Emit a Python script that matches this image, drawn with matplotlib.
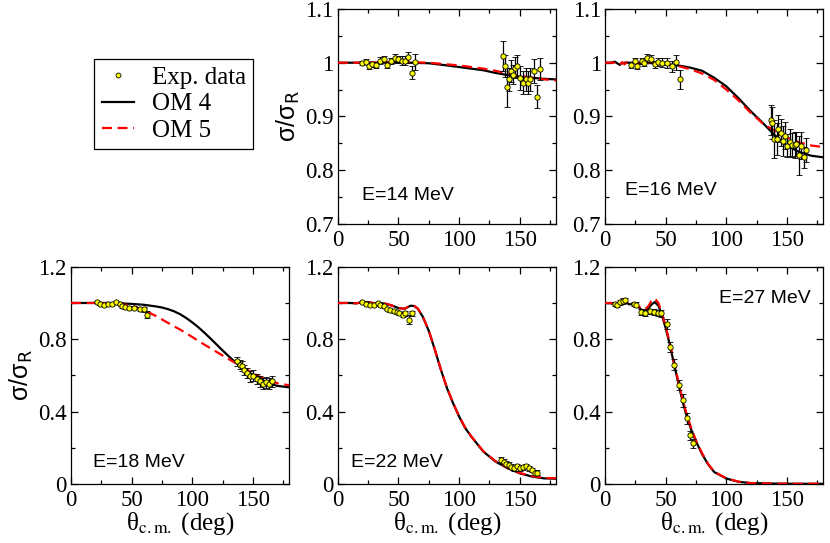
import matplotlib.pyplot as plt
import numpy as np
from matplotlib.lines import Line2D
from matplotlib.ticker import MultipleLocator, FuncFormatter

plt.rcParams['font.family'] = 'serif'
plt.rcParams['font.serif'] = ['Liberation Serif', 'DejaVu Serif']

# ---- E = 14 MeV ----
th14_exp = [19.7, 23.5, 25.7, 28.4, 31.9, 34.6, 37.8, 40.5, 43.8, 46.8, 49.5, 53.2, 55.4, 58.1, 60.8, 63.5,
            136.5, 137.8, 139.2, 141.0, 142.7, 144.6, 146.0, 147.8, 150.5, 152.7, 154.9, 156.8, 158.6, 161.4, 164.0, 166.8]
y14_exp = [1.0, 1.002, 0.994, 0.997, 0.996, 1.004, 1.007, 0.996, 1.003, 1.009, 1.006, 1.004, 1.004, 1.010, 0.981, 1.002,
           1.012, 0.994, 0.954, 0.969, 0.985, 0.978, 0.991, 0.994, 0.971, 0.963, 0.969, 0.963, 0.969, 0.985, 0.937, 0.988]
e14_exp = [0.004, 0.005, 0.005, 0.005, 0.005, 0.006, 0.006, 0.006, 0.006, 0.007, 0.007, 0.008, 0.008, 0.010, 0.012, 0.015,
           0.028, 0.020, 0.036, 0.022, 0.020, 0.018, 0.020, 0.020, 0.022, 0.022, 0.022, 0.022, 0.022, 0.022, 0.022, 0.020]
th14_om = [0, 20, 40, 60, 75, 90, 100, 110, 120, 130, 140, 150, 160, 170, 180]
om4_14 = [1.0, 1.0, 1.0, 1.0, 0.999, 0.995, 0.992, 0.989, 0.986, 0.981, 0.977, 0.974, 0.972, 0.970, 0.969]
om5_14 = [1.0, 1.0, 1.001, 1.001, 1.0, 0.997, 0.995, 0.992, 0.989, 0.985, 0.980, 0.976, 0.972, 0.969, 0.967]

# ---- E = 16 MeV ----
th16_exp = [21.0, 24.3, 26.4, 30.2, 32.3, 34.5, 37.7, 40.9, 43.9, 47.2, 51.2, 55.3, 58.6, 61.5,
            136.7, 138.0, 139.6, 141.5, 142.8, 145.0, 146.9, 148.2, 150.1, 152.3, 154.2, 156.3, 157.7, 159.6, 161.7, 163.9, 166.0]
y16_exp = [0.996, 1.004, 0.994, 1.003, 1.0, 1.009, 1.007, 0.997, 1.001, 1.0, 0.999, 0.993, 1.001, 0.969,
           0.894, 0.888, 0.858, 0.858, 0.877, 0.870, 0.855, 0.864, 0.846, 0.852, 0.847, 0.847, 0.849, 0.828, 0.846, 0.824, 0.838]
e16_exp = [0.005, 0.005, 0.006, 0.006, 0.006, 0.007, 0.007, 0.007, 0.008, 0.008, 0.009, 0.010, 0.014, 0.018,
           0.028, 0.030, 0.036, 0.030, 0.025, 0.025, 0.028, 0.025, 0.022, 0.025, 0.022, 0.025, 0.022, 0.036, 0.025, 0.020, 0.022]
th16_om = [0, 5, 8, 12, 14, 16, 18, 20, 30, 40, 50, 60, 70, 80, 90, 100, 110, 120, 130, 140, 150, 160, 170, 180]
om4_16 = [1.0, 1.0, 1.002, 0.996, 0.999, 1.0, 1.0, 1.0, 1.0, 0.999, 0.997, 0.995, 0.991, 0.985, 0.972, 0.956,
          0.934, 0.910, 0.888, 0.865, 0.846, 0.834, 0.827, 0.824]
om5_16 = [1.0, 1.0, 1.0, 0.996, 1.001, 0.997, 1.001, 0.999, 0.999, 1.0, 0.997, 0.994, 0.988, 0.980, 0.968, 0.950,
          0.930, 0.907, 0.887, 0.873, 0.861, 0.852, 0.846, 0.843]

# ---- E = 18 MeV ----
th18_exp = [21.4, 24.2, 26.9, 30.5, 33.8, 37.4, 40.1, 42.0, 44.8, 47.5, 51.6, 56.6, 60.4, 62.6,
            137.0, 139.0, 141.0, 143.0, 145.5, 148.0, 150.5, 153.0, 155.5, 158.0, 160.5, 163.0, 165.5]
y18_exp = [1.004, 0.993, 0.990, 0.997, 0.993, 1.004, 0.997, 0.982, 0.977, 0.973, 0.973, 0.967, 0.964, 0.936,
           0.678, 0.659, 0.650, 0.631, 0.613, 0.594, 0.598, 0.580, 0.567, 0.554, 0.561, 0.554, 0.567]
e18_exp = [0.006, 0.006, 0.006, 0.006, 0.006, 0.007, 0.007, 0.007, 0.008, 0.008, 0.009, 0.010, 0.012, 0.020,
           0.025, 0.025, 0.028, 0.028, 0.028, 0.030, 0.030, 0.030, 0.030, 0.030, 0.030, 0.030, 0.030]
th18_om = [0, 10, 20, 30, 40, 50, 60, 70, 75, 80, 85, 90, 95, 100, 105, 110, 115, 120, 125, 130, 135,
           140, 150, 160, 170, 180]
om4_18 = [1.0, 1.0, 1.0, 1.0, 0.998, 0.995, 0.990, 0.981, 0.975, 0.966, 0.954, 0.938, 0.917, 0.893, 0.866,
          0.836, 0.804, 0.771, 0.738, 0.706, 0.676, 0.650, 0.602, 0.564, 0.542, 0.534]
om5_18 = [1.0, 1.0, 1.0, 0.999, 0.995, 0.985, 0.962, 0.928, 0.909, 0.890, 0.871, 0.853, 0.833, 0.812, 0.791,
          0.770, 0.750, 0.730, 0.710, 0.690, 0.671, 0.653, 0.612, 0.578, 0.557, 0.545]

# ---- E = 22 MeV ----
th22_exp = [20.3, 23.0, 26.3, 29.8, 33.0, 35.2, 37.9, 40.7, 43.4, 46.1, 48.8, 50.7, 53.4, 55.6, 58.3, 61.0,
            134.7, 136.9, 139.0, 140.9, 143.1, 145.5, 147.7, 150.4, 153.1, 155.3, 157.7, 159.9, 162.6, 164.5]
y22_exp = [1.004, 0.997, 0.991, 0.991, 1.0, 0.991, 0.982, 0.967, 0.960, 0.954, 0.949, 0.942, 0.936, 0.942, 0.908, 0.942,
           0.133, 0.124, 0.111, 0.105, 0.096, 0.087, 0.100, 0.087, 0.092, 0.100, 0.087, 0.078, 0.059, 0.063]
e22_exp = [0.006, 0.006, 0.006, 0.006, 0.007, 0.007, 0.007, 0.008, 0.008, 0.009, 0.009, 0.010, 0.012, 0.014, 0.025, 0.015,
           0.015, 0.014, 0.014, 0.014, 0.014, 0.013, 0.013, 0.013, 0.013, 0.013, 0.013, 0.013, 0.012, 0.012]
th22_om = [0, 10, 15, 20, 25, 30, 35, 40, 45, 50, 55, 60, 63, 66, 70, 75, 80, 85, 90, 95, 100, 105, 110,
           120, 130, 140, 150, 160, 170, 180]
om4_22 = [1.0, 1.0, 0.998, 1.003, 1.005, 0.998, 1.0, 0.995, 0.985, 0.972, 0.968, 0.985, 0.983, 0.968, 0.925,
          0.846, 0.742, 0.631, 0.530, 0.447, 0.373, 0.310, 0.262, 0.179, 0.124, 0.087, 0.059, 0.041, 0.031, 0.029]
om5_22 = [1.0, 1.0, 0.998, 1.003, 1.005, 0.998, 1.0, 0.995, 0.985, 0.972, 0.968, 0.986, 0.984, 0.969, 0.926,
          0.848, 0.744, 0.633, 0.532, 0.449, 0.375, 0.312, 0.264, 0.181, 0.126, 0.089, 0.061, 0.044, 0.033, 0.032]

# ---- E = 27 MeV ----
th27_exp = [8.1, 9.9, 12.1, 14.8, 16.2, 23.5, 25.6, 29.6, 32.9, 36.9, 40.4, 43.7, 46.4, 50.7, 53.9, 57.1,
            60.6, 64.2, 67.4, 70.1, 72.2]
y27_exp = [0.995, 0.991, 1.004, 1.010, 1.015, 0.995, 0.991, 0.949, 0.945, 0.954, 0.951, 0.945, 0.942, 0.884, 0.757,
           0.659, 0.547, 0.462, 0.364, 0.268, 0.225]
e27_exp = [0.012, 0.012, 0.015, 0.015, 0.015, 0.012, 0.012, 0.015, 0.015, 0.015, 0.015, 0.018, 0.020, 0.030, 0.030,
           0.030, 0.030, 0.035, 0.030, 0.025, 0.025]
th27_om = [0, 5, 8, 10, 13, 15, 18, 20, 23, 25, 28, 30, 33, 36, 38, 41, 44, 47, 50, 53, 56, 59, 62, 65, 68,
           71, 75, 80, 85, 90, 100, 110, 120, 140, 160, 180]
om4_27 = [1.0, 0.998, 0.99, 0.985, 0.995, 1.005, 1.0, 0.992, 0.995, 0.99, 0.975, 0.962, 0.958, 0.972, 0.99,
          1.005, 0.985, 0.93, 0.86, 0.78, 0.69, 0.60, 0.51, 0.43, 0.36, 0.30, 0.235, 0.165, 0.108, 0.066,
          0.030, 0.012, 0.005, 0.002, 0.001, 0.001]
om5_27 = [1.0, 1.0, 0.995, 0.99, 1.0, 1.015, 1.005, 0.99, 1.0, 0.998, 0.98, 0.968, 0.965, 0.985, 1.01,
          1.025, 1.0, 0.94, 0.871, 0.79, 0.70, 0.61, 0.52, 0.44, 0.37, 0.31, 0.24, 0.17, 0.11, 0.068,
          0.031, 0.013, 0.005, 0.002, 0.001, 0.002]

fig = plt.figure(figsize=(8.3, 5.43), dpi=100)

W = 0.263
cols = [0.0855, 0.407, 0.729]
top_y, top_h = 0.5875, 0.396
bot_y, bot_h = 0.1087, 0.400

fmt = FuncFormatter(lambda v, p: '%g' % round(v, 3))


def panel(rect, th_exp, y_exp, e_exp, th_om, om4, om5, label, label_xy, ha, top):
    ax = fig.add_axes(rect)
    ax.plot(th_om, om4, color='black', lw=1.6, zorder=2)
    ax.plot(th_om, om5, color='red', lw=1.6, ls=(0, (4.5, 2.5)), zorder=3)
    ax.errorbar(th_exp, y_exp, yerr=e_exp, fmt='o', ms=3.8, mfc='yellow', mec='black', mew=0.6,
                ecolor='black', elinewidth=0.9, capsize=2.5, capthick=0.9, zorder=4)
    ax.set_xlim(0, 180)
    ax.xaxis.set_major_locator(MultipleLocator(50))
    ax.xaxis.set_minor_locator(MultipleLocator(25))
    if top:
        ax.set_ylim(0.7, 1.1)
        ax.yaxis.set_major_locator(MultipleLocator(0.1))
        ax.yaxis.set_minor_locator(MultipleLocator(0.05))
    else:
        ax.set_ylim(0, 1.2)
        ax.yaxis.set_major_locator(MultipleLocator(0.4))
        ax.yaxis.set_minor_locator(MultipleLocator(0.2))
        ax.set_xlabel('θ$_{\\rm c.m.}$ (deg)', fontsize=18, math_fontfamily='stix', labelpad=0)
    ax.yaxis.set_major_formatter(fmt)
    ax.tick_params(which='both', direction='in', top=True, right=True, width=0.9)
    ax.tick_params(which='major', length=5, labelsize=16.5)
    ax.tick_params(which='minor', length=3)
    ax.tick_params(axis='x', which='major', pad=4)
    ax.tick_params(axis='y', which='major', pad=3)
    for s in ax.spines.values():
        s.set_linewidth(0.9)
    ax.text(label_xy[0], label_xy[1], label, transform=ax.transAxes, ha=ha, va='baseline',
            fontsize=14, family='Liberation Sans')
    return ax


ax14 = panel([cols[1], top_y, W, top_h], th14_exp, y14_exp, e14_exp, th14_om, om4_14, om5_14,
             'E=14 MeV', (0.11, 0.11), 'left', True)
ax16 = panel([cols[2], top_y, W, top_h], th16_exp, y16_exp, e16_exp, th16_om, om4_16, om5_16,
             'E=16 MeV', (0.09, 0.135), 'left', True)
ax18 = panel([cols[0], bot_y, W, bot_h], th18_exp, y18_exp, e18_exp, th18_om, om4_18, om5_18,
             'E=18 MeV', (0.10, 0.08), 'left', False)
ax22 = panel([cols[1], bot_y, W, bot_h], th22_exp, y22_exp, e22_exp, th22_om, om4_22, om5_22,
             'E=22 MeV', (0.06, 0.08), 'left', False)
ax27 = panel([cols[2], bot_y, W, bot_h], th27_exp, y27_exp, e27_exp, th27_om, om4_27, om5_27,
             'E=27 MeV', (0.94, 0.834), 'right', False)

for ax in (ax14, ax18):
    ax.set_ylabel('σ/σ$_{\\rm R}$', fontsize=18, family='Liberation Sans',
                  math_fontfamily='dejavusans', labelpad=2)

handles = [Line2D([], [], ls='none', marker='o', ms=3.5, mfc='yellow', mec='black', mew=0.6),
           Line2D([], [], color='black', lw=1.6),
           Line2D([], [], color='red', lw=1.6, ls=(0, (4.5, 2.5)))]
leg = fig.legend(handles, ['Exp. data', 'OM 4', 'OM 5'], loc='upper left',
                 bbox_to_anchor=(94 / 830, 1 - 59 / 543), fontsize=18, frameon=True, fancybox=False,
                 edgecolor='black', framealpha=1, handlelength=1.3, handletextpad=0.7,
                 labelspacing=0.15, borderpad=0.3, borderaxespad=0)
leg.get_frame().set_linewidth(0.9)

fig.savefig('out.png', dpi=100)
